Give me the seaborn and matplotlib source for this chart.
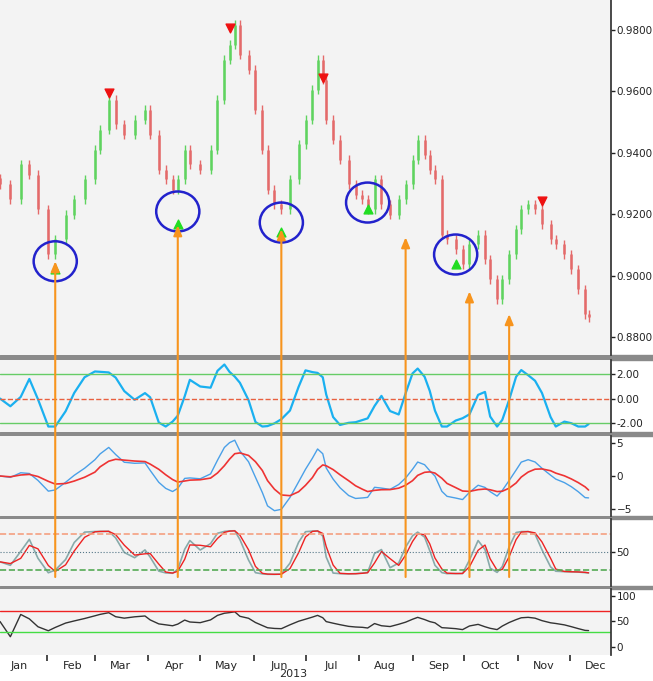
import numpy as np
import pandas as pd
import matplotlib
matplotlib.use("Agg")
import matplotlib.pyplot as plt
import matplotlib.dates as mdates
from matplotlib.patches import Ellipse, ConnectionPatch, Rectangle
import seaborn as sns

sns.set_theme(style="white")

# days after 2013-01-05 and closing prices
day_offsets = [0, 6, 12, 17, 22, 28, 32, 38, 43, 49, 55, 58, 63, 67, 72, 78, 84, 87, 92, 96,
               100, 103, 107, 110, 116, 122, 126, 130, 133, 136, 139, 144, 148, 152, 155, 159,
               163, 168, 173, 177, 181, 184, 187, 189, 193, 197, 202, 206, 210, 213, 217, 221,
               226, 231, 235, 239, 242, 246, 249, 252, 256, 259, 264, 268, 272, 277, 281, 284,
               288, 291, 295, 299, 302, 306, 310, 314, 319, 322, 327, 331, 335, 339, 341]
closes = [0.9297, 0.9248, 0.9362, 0.9329, 0.9216, 0.9069, 0.9118, 0.9199, 0.9248, 0.9313,
          0.9410, 0.9475, 0.9573, 0.9492, 0.9459, 0.9508, 0.9540, 0.9459, 0.9345, 0.9313,
          0.9280, 0.9313, 0.9410, 0.9362, 0.9345, 0.9410, 0.9573, 0.9703, 0.9751, 0.9816,
          0.9719, 0.9670, 0.9540, 0.9410, 0.9280, 0.9232, 0.9216, 0.9313, 0.9427, 0.9508,
          0.9605, 0.9703, 0.9638, 0.9508, 0.9443, 0.9378, 0.9297, 0.9264, 0.9248, 0.9216,
          0.9313, 0.9232, 0.9199, 0.9248, 0.9297, 0.9378, 0.9443, 0.9394, 0.9345, 0.9313,
          0.9134, 0.9118, 0.9086, 0.9037, 0.9102, 0.9134, 0.9053, 0.8988, 0.8923, 0.8988,
          0.9069, 0.9151, 0.9216, 0.9232, 0.9216, 0.9167, 0.9118, 0.9102, 0.9069, 0.9021,
          0.8956, 0.8875, 0.8865]

buy_idx = [6, 21, 36, 49, 62]
buy_price = [0.9021, 0.9167, 0.9141, 0.9216, 0.9037]
circle_price = [0.9047, 0.9209, 0.9173, 0.9238, 0.9069]
sell_idx = [12, 28, 42, 75]
sell_price = [0.9595, 0.9806, 0.9644, 0.9242]
arrow_idx = [6, 21, 36, 54, 64, 70]
arrow_tip = [0.9047, 0.9164, 0.9151, 0.9125, 0.8949, 0.8875]
months = ["Jan", "Feb", "Mar", "Apr", "May", "Jun", "Jul", "Aug", "Sep", "Oct", "Nov", "Dec"]

dates = pd.Timestamp("2013-01-05") + pd.to_timedelta(day_offsets, unit="D")
df = pd.DataFrame({"close": closes}, index=dates)
df["open"] = df["close"].shift(1).fillna(df["close"].iloc[0] + 0.002)
df["high"] = df[["open", "close"]].max(axis=1) + 0.0015
df["low"] = df[["open", "close"]].min(axis=1) - 0.0015

# indicators computed from the closes
c = df["close"]
tp = (df.high + df.low + df.close) / 3
sma = tp.rolling(5, min_periods=1).mean()
mad = tp.rolling(5, min_periods=1).apply(lambda v: np.mean(np.abs(v - v.mean())), raw=True)
cci = ((tp - sma) / (0.015 * mad.replace(0, np.nan)) / 100).fillna(0)
cci = (cci.rolling(2, min_periods=1).mean() * 1.9).clip(-2.3, 2.8)
macd = (c.ewm(span=3).mean() - c.ewm(span=7).mean()) * 450
signal = macd.ewm(span=6).mean()
lo = df.low.rolling(4, min_periods=1).min()
hi = df.high.rolling(4, min_periods=1).max()
k = 10 + 0.78 * (100 * (c - lo) / (hi - lo)).rolling(2, min_periods=1).mean()
d = k.rolling(2, min_periods=1).mean()
delta = c.diff().fillna(0)
up = delta.clip(lower=0).ewm(alpha=1 / 7).mean()
dn = (-delta.clip(upper=0)).ewm(alpha=1 / 7).mean()
rsi = (100 - 100 / (1 + up / dn.replace(0, np.nan))).fillna(50)
rsi = 50 + (rsi - 50) * 0.6

W, H = 653, 681
fig = plt.figure(figsize=(W / 100, H / 100), dpi=100)
right = 611 / W
def box(top, bot):
    return [0, 1 - bot / H, right, (bot - top) / H]
bg = "#f3f3f3"
ax1 = fig.add_axes(box(0, 355))
ax2 = fig.add_axes(box(360, 432), sharex=ax1)
ax3 = fig.add_axes(box(436, 516), sharex=ax1)
ax4 = fig.add_axes(box(519, 586), sharex=ax1)
ax5 = fig.add_axes(box(589, 655), sharex=ax1)
for top, bot in [(355, 360), (432, 436), (516, 519), (586, 589)]:
    fig.add_artist(Rectangle((0, 1 - bot / H), 1, (bot - top) / H, transform=fig.transFigure,
                             color="#8a8a8a", zorder=0))

# candles
upc = df.close >= df.open
for mask, col in [(upc, "#5fd35f"), (~upc, "#e46a6a")]:
    sub = df[mask]
    ax1.vlines(sub.index, sub.low, sub.high, color=col, lw=1)
    ax1.vlines(sub.index, sub[["open", "close"]].min(axis=1), sub[["open", "close"]].max(axis=1),
               color=col, lw=1.8)
ax1.scatter(df.index[buy_idx], buy_price, marker="^", color="#22dd22", s=40, zorder=5)
ax1.scatter(df.index[sell_idx], sell_price, marker="v", color="#ee1111", s=40, zorder=5)
for i, p in zip(buy_idx, circle_price):
    ax1.add_patch(Ellipse((mdates.date2num(df.index[i]), p), 25, 0.013, fill=False,
                          ec="#2222cc", lw=1.8, zorder=6))
ax1.set_ylim(0.8742, 0.9897)
ax1.set_yticks([0.88, 0.90, 0.92, 0.94, 0.96, 0.98])
ax1.yaxis.set_major_formatter(matplotlib.ticker.FormatStrFormatter("%.4f"))

ax2.plot(df.index, cci, color="#1ab0f0", lw=1.6)
ax2.axhline(2, color="#66cc66", lw=1)
ax2.axhline(-2, color="#66cc66", lw=1)
ax2.axhline(0, color="#e86040", lw=1, ls="--")
ax2.set_ylim(-2.75, 3.17)
ax2.set_yticks([2, 0, -2])
ax2.set_yticklabels(["2.00", "0.00", "-2.00"])

ax3.plot(df.index, macd, color="#4aa0e8", lw=1)
ax3.plot(df.index, signal, color="#ee3333", lw=1.2)
ax3.set_ylim(-6.06, 6.06)
ax3.set_yticks([5, 0, -5])

ax4.plot(df.index, k, color="#88aaaa", lw=1.2)
ax4.plot(df.index, d, color="#ee2222", lw=1)
ax4.axhline(80, color="#f5a080", lw=1.2, ls="--")
ax4.axhline(20, color="#55aa55", lw=1.2, ls="--")
ax4.axhline(50, color="#557788", lw=0.8, ls=":")
ax4.set_ylim(-7, 105)
ax4.set_yticks([50])

ax5.plot(df.index, rsi, color="#333333", lw=1)
ax5.axhline(70, color="#ee2222", lw=1)
ax5.axhline(30, color="#44dd44", lw=1)
ax5.set_ylim(-16, 114)
ax5.set_yticks([0, 50, 100])

for ax in [ax1, ax2, ax3, ax4, ax5]:
    ax.set_facecolor(bg)
    ax.yaxis.tick_right()
    ax.tick_params(axis="y", direction="out", length=3, width=1, labelsize=7.5, colors="#222222", pad=1)
    for s in ["top", "left", "bottom"]:
        ax.spines[s].set_visible(False)
    ax.spines["right"].set_color("#333333")
    ax.grid(False)
    if ax is not ax5:
        ax.tick_params(axis="x", bottom=False, labelbottom=False)

ax1.set_xlim(pd.Timestamp("2013-01-05"), pd.Timestamp("2013-12-25"))
ax5.xaxis.set_major_locator(mdates.MonthLocator())
ax5.xaxis.set_major_formatter(matplotlib.ticker.NullFormatter())
ax5.xaxis.set_minor_locator(mdates.MonthLocator(bymonthday=16))
ax5.xaxis.set_minor_formatter(matplotlib.ticker.FuncFormatter(
    lambda v, p: months[mdates.num2date(v).month - 1]))
ax5.tick_params(axis="x", which="major", bottom=True, length=4, color="#333333")
ax5.tick_params(axis="x", which="minor", bottom=False, labelsize=8, pad=0)
fig.text(293 / W, 1 - 674 / H, "2013", ha="center", va="center", fontsize=8)

for i, tip in zip(arrow_idx, arrow_tip):
    x = mdates.date2num(df.index[i])
    con = ConnectionPatch(xyA=(x, 8), coordsA=ax4.transData, xyB=(x, tip), coordsB=ax1.transData,
                          arrowstyle="-|>,head_length=0.6,head_width=0.25", color="#f7941d", lw=1.5,
                          zorder=10)
    fig.add_artist(con)

fig.savefig("out.png", dpi=100, facecolor="white")
